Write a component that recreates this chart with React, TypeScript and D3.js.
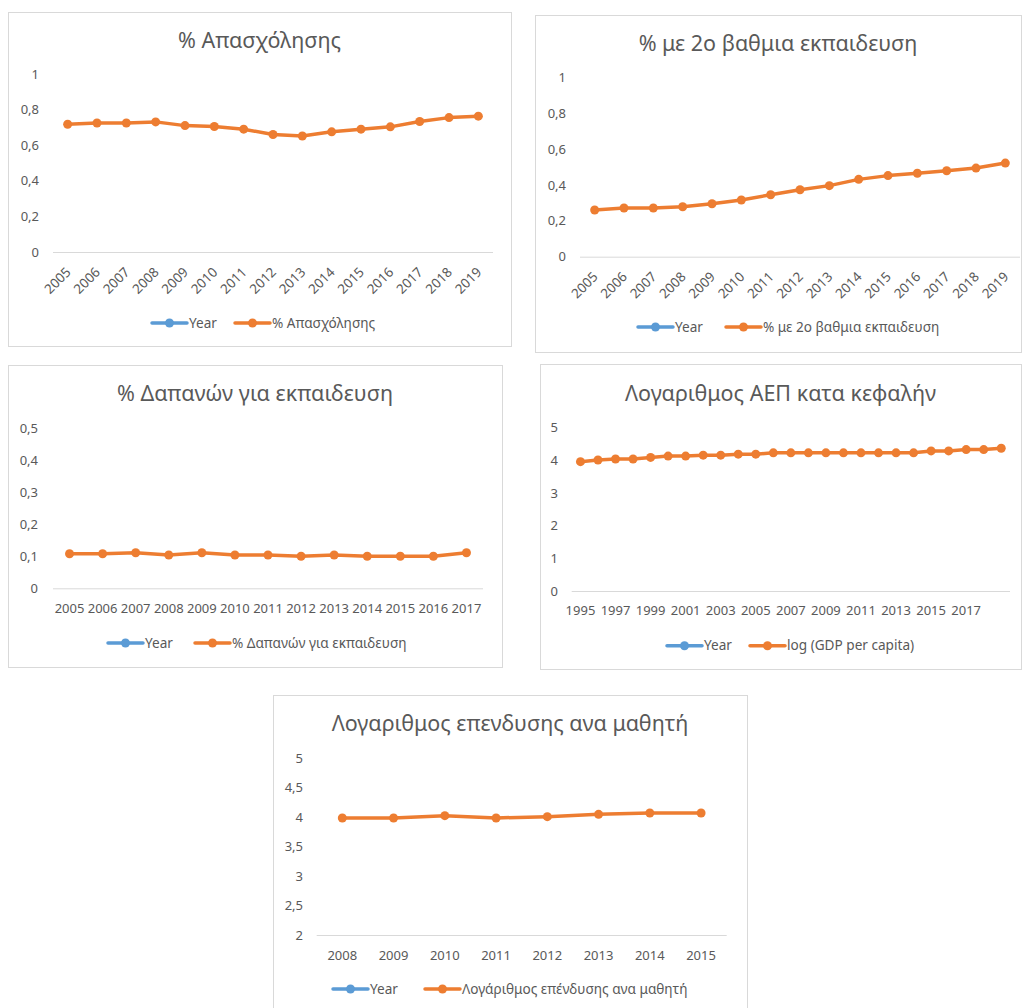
import React from "react";
import * as d3 from "d3";

// ---- data ----
const employmentYears = ["2005", "2006", "2007", "2008", "2009", "2010", "2011", "2012", "2013", "2014", "2015", "2016", "2017", "2018", "2019"];
const employmentShare = [0.718, 0.725, 0.725, 0.731, 0.71, 0.705, 0.69, 0.66, 0.652, 0.675, 0.69, 0.703, 0.733, 0.755, 0.763];

const secondaryYears = ["2005", "2006", "2007", "2008", "2009", "2010", "2011", "2012", "2013", "2014", "2015", "2016", "2017", "2018", "2019"];
const secondaryShare = [0.261, 0.272, 0.272, 0.279, 0.296, 0.317, 0.346, 0.374, 0.397, 0.432, 0.453, 0.466, 0.48, 0.495, 0.523];

const spendingYears = ["2005", "2006", "2007", "2008", "2009", "2010", "2011", "2012", "2013", "2014", "2015", "2016", "2017"];
const spendingShare = [0.108, 0.108, 0.111, 0.104, 0.111, 0.104, 0.104, 0.1, 0.104, 0.1, 0.1, 0.1, 0.111];

const gdpYears = ["1995", "1996", "1997", "1998", "1999", "2000", "2001", "2002", "2003", "2004", "2005", "2006", "2007", "2008", "2009", "2010", "2011", "2012", "2013", "2014", "2015", "2016", "2017", "2018", "2019"];
const logGdpPerCapita = [3.96, 4.01, 4.04, 4.04, 4.09, 4.13, 4.13, 4.16, 4.16, 4.19, 4.19, 4.23, 4.23, 4.23, 4.23, 4.23, 4.23, 4.23, 4.23, 4.23, 4.29, 4.29, 4.33, 4.33, 4.37];
const gdpTickLabels = ["1995", "1997", "1999", "2001", "2003", "2005", "2007", "2009", "2011", "2013", "2015", "2017"];

const investYears = ["2008", "2009", "2010", "2011", "2012", "2013", "2014", "2015"];
const logInvestPerStudent = [3.987, 3.987, 4.026, 3.987, 4.009, 4.049, 4.072, 4.072];

const shareTicks = [0, 0.2, 0.4, 0.6, 0.8, 1];
const spendingTicks = [0, 0.1, 0.2, 0.3, 0.4, 0.5];
const gdpTicks = [0, 1, 2, 3, 4, 5];
const investTicks = [2, 2.5, 3, 3.5, 4, 4.5, 5];

// ---- styling ----
const FONT = "'Noto Sans', 'DejaVu Sans', sans-serif";
const ORANGE = "#ED7D31";
const BLUE = "#5B9BD5";
const TEXT = "#595959";
const RULE = "#D9D9D9";

type PanelProps = {
  title: string;
  seriesName: string;
  categories: string[];
  values: number[];
  yTicks: number[];
  xLabels?: string[];
  rotate?: boolean;
  box: [number, number, number, number];
  plot: { left: number; right: number; top: number; bottom: number };
  titleY: number;
  yLabelRight: number;
  xLabelY: number;
  legendY: number;
  legendBlue: number;
  legendOrange: number;
};

const fmt = (v: number) => String(v).replace(".", ",");

function Panel(p: PanelProps) {
  const [bx, by, bw, bh] = p.box;
  const x = d3.scaleBand<string>().domain(p.categories).range([p.plot.left, p.plot.right]).padding(0);
  const y = d3
    .scaleLinear()
    .domain([p.yTicks[0], p.yTicks[p.yTicks.length - 1]])
    .range([p.plot.bottom, p.plot.top]);
  const cx = (c: string) => (x(c) as number) + x.bandwidth() / 2;
  const pts = p.categories.map((c, i) => [cx(c), y(p.values[i])] as [number, number]);
  const path = d3.line()(pts) || "";
  const shown = p.xLabels ?? p.categories;
  const legendItem = (x0: number, color: string, label: string) => (
    <g>
      <line x1={x0} x2={x0 + 35} y1={p.legendY} y2={p.legendY} stroke={color} strokeWidth={3.5} strokeLinecap="round" />
      <circle cx={x0 + 17.5} cy={p.legendY} r={4.5} fill={color} />
      <text x={x0 + 37} y={p.legendY} dy="0.35em" fontSize={13.6} fill={TEXT}>
        {label}
      </text>
    </g>
  );
  return (
    <g fontFamily={FONT}>
      <rect x={bx + 0.5} y={by + 0.5} width={bw} height={bh} fill="#fff" stroke={RULE} strokeWidth={1} />
      <text x={bx + bw / 2} y={p.titleY} dy="0.35em" textAnchor="middle" fontSize={21.5} fill={TEXT}>
        {p.title}
      </text>
      {p.yTicks.map((t) => (
        <text key={t} x={p.yLabelRight} y={y(t)} dy="0.35em" textAnchor="end" fontSize={13} fill={TEXT}>
          {fmt(t)}
        </text>
      ))}
      <line x1={p.plot.left} x2={p.plot.right} y1={p.plot.bottom + 0.5} y2={p.plot.bottom + 0.5} stroke={RULE} strokeWidth={1} />
      {shown.map((c) =>
        p.rotate ? (
          <text
            key={c}
            transform={`translate(${cx(c) + 4},${p.plot.bottom + 21}) rotate(-45)`}
            textAnchor="end"
            fontSize={13.4}
            fill={TEXT}
          >
            {c}
          </text>
        ) : (
          <text key={c} x={cx(c)} y={p.xLabelY} dy="0.35em" textAnchor="middle" fontSize={13} fill={TEXT}>
            {c}
          </text>
        )
      )}
      <path d={path} fill="none" stroke={ORANGE} strokeWidth={3.5} strokeLinejoin="round" strokeLinecap="round" />
      {pts.map(([px, py], i) => (
        <circle key={i} cx={px} cy={py} r={4.5} fill={ORANGE} />
      ))}
      {legendItem(p.legendBlue, BLUE, "Year")}
      {legendItem(p.legendOrange, ORANGE, p.seriesName)}
    </g>
  );
}

export default function App() {
  return (
    <svg
      width={1022}
      height={1008}
      style={{ position: "absolute", left: 0, top: 0, background: "#fff" }}
    >
      <Panel
        title="% Απασχόλησης"
        seriesName="% Απασχόλησης"
        categories={employmentYears}
        values={employmentShare}
        yTicks={shareTicks}
        rotate
        box={[8, 12, 503, 334]}
        plot={{ left: 53, right: 493, top: 74, bottom: 252 }}
        titleY={40}
        yLabelRight={39}
        xLabelY={0}
        legendY={323}
        legendBlue={152}
        legendOrange={235}
      />
      <Panel
        title="% με 2ο βαθμια εκπαιδευση"
        seriesName="% με 2ο βαθμια εκπαιδευση"
        categories={secondaryYears}
        values={secondaryShare}
        yTicks={shareTicks}
        rotate
        box={[535, 15, 486, 337]}
        plot={{ left: 580, right: 1020, top: 77.7, bottom: 256.7 }}
        titleY={43}
        yLabelRight={566}
        xLabelY={0}
        legendY={327}
        legendBlue={638}
        legendOrange={726}
      />
      <Panel
        title="% Δαπανών για εκπαιδευση"
        seriesName="% Δαπανών για εκπαιδευση"
        categories={spendingYears}
        values={spendingShare}
        yTicks={spendingTicks}
        box={[8, 365, 494, 302]}
        plot={{ left: 53, right: 483, top: 428.3, bottom: 588.3 }}
        titleY={393}
        yLabelRight={38}
        xLabelY={608}
        legendY={643}
        legendBlue={108}
        legendOrange={195}
      />
      <Panel
        title="Λογαριθμος ΑΕΠ κατα κεφαλήν"
        seriesName="log (GDP per capita)"
        categories={gdpYears}
        values={logGdpPerCapita}
        yTicks={gdpTicks}
        xLabels={gdpTickLabels}
        box={[540, 364, 481, 305]}
        plot={{ left: 571.7, right: 1010, top: 427.7, bottom: 591 }}
        titleY={393}
        yLabelRight={558}
        xLabelY={610.7}
        legendY={645.7}
        legendBlue={667}
        legendOrange={750}
      />
      <Panel
        title="Λογαριθμος επενδυσης ανα μαθητή"
        seriesName="Λογάριθμος επένδυσης ανα μαθητή"
        categories={investYears}
        values={logInvestPerStudent}
        yTicks={investTicks}
        box={[273, 695, 474, 320]}
        plot={{ left: 316.7, right: 726.7, top: 758.3, bottom: 935 }}
        titleY={723}
        yLabelRight={303}
        xLabelY={955.7}
        legendY={989}
        legendBlue={333}
        legendOrange={425}
      />
    </svg>
  );
}
